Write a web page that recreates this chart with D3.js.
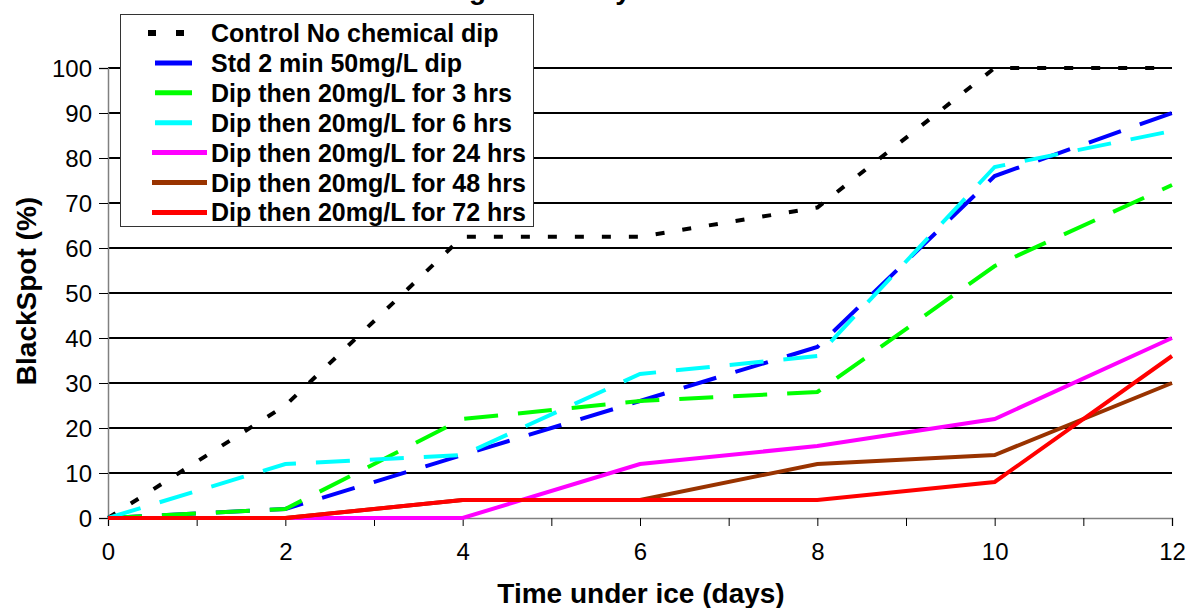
<!DOCTYPE html>
<html>
<head>
<meta charset="utf-8">
<script src="https://cdn.jsdelivr.net/npm/d3@7"></script>
<style>
  body { margin: 0; background: #fff; }
  svg { display: block; font-family: Arial, "Liberation Sans", sans-serif; }
</style>
</head>
<body>
<div id="chart"></div>
<script>
const width = 1189;
const height = 608;

// days under ice
const days = [0, 2, 4, 6, 8, 10, 12];

const seriesNames = [
    "Control No chemical dip",
    "Std 2 min 50mg/L dip",
    "Dip then 20mg/L for 3 hrs",
    "Dip then 20mg/L for 6 hrs",
    "Dip then 20mg/L for 24 hrs",
    "Dip then 20mg/L for 48 hrs",
    "Dip then 20mg/L for 72 hrs"
];

const controlValues = [0, 25, 62.5, 62.5, 69, 100, 100];
const stdValues     = [0, 2, 14, 26, 38, 76, 90];
const hrs3Values    = [0, 2, 22, 26, 28, 56, 74];
const hrs6Values    = [0, 12, 14, 32, 36, 78, 86];
const hrs24Values   = [0, 0, 0, 12, 16, 22, 40];
const hrs48Values   = [0, 0, 4, 4, 12, 14, 30];
const hrs72Values   = [0, 0, 4, 4, 4, 8, 36];

const yTicks = [0, 10, 20, 30, 40, 50, 60, 70, 80, 90, 100];
const xTickLabels = [0, 2, 4, 6, 8, 10, 12];

const colors = ["#000000", "#0000ff", "#00ff00", "#00ffff", "#ff00ff", "#993300", "#ff0000"];
const dashes = ["9,18", "34,20", "34,20", "34,20", null, null, null];

const allValues = [controlValues, stdValues, hrs3Values, hrs6Values, hrs24Values, hrs48Values, hrs72Values];

const margin = {left: 108, right: 17, top: 68, bottom: 90};

const x = d3.scaleLinear().domain([0, 12]).range([margin.left, width - margin.right]);
const y = d3.scaleLinear().domain([0, 100]).range([height - margin.bottom, margin.top]);

const svg = d3.select("#chart").append("svg")
    .attr("width", width)
    .attr("height", height);

// title (cut off at the top in the original, only descenders show)
svg.append("text")
    .attr("x", 290)
    .attr("y", -1)
    .attr("font-size", 28)
    .attr("font-weight", "bold")
    .text("Lobster storage on ice by treatment");

// gridlines
svg.append("g")
    .selectAll("line")
    .data(yTicks.filter(d => d > 0))
    .enter().append("line")
    .attr("x1", x(0))
    .attr("x2", x(12))
    .attr("y1", d => y(d))
    .attr("y2", d => y(d))
    .attr("stroke", "#000")
    .attr("stroke-width", 2);

// axes
const yAxis = svg.append("g")
    .attr("transform", `translate(${x(0)},0)`)
    .call(d3.axisLeft(y).tickValues(yTicks).tickSize(9).tickPadding(7));
const xAxis = svg.append("g")
    .attr("transform", `translate(0,${y(0)})`)
    .call(d3.axisBottom(x).ticks(12).tickSize(8).tickPadding(17)
        .tickFormat(d => xTickLabels.includes(d) ? d : ""));

[yAxis, xAxis].forEach(a => {
    a.select(".domain").attr("stroke", "#808080").attr("stroke-width", 1.5);
    a.selectAll(".tick line").attr("stroke", "#000").attr("stroke-width", 1);
    a.selectAll("text").attr("font-size", 24).attr("fill", "#000")
        .attr("font-family", "Arial, 'Liberation Sans', sans-serif");
});
yAxis.selectAll("text").attr("dy", "0.36em");

// lines
const line = d3.line()
    .x((d, i) => x(days[i]))
    .y(d => y(d));

svg.append("g")
    .selectAll("path")
    .data(allValues)
    .enter().append("path")
    .attr("d", d => line(d))
    .attr("fill", "none")
    .attr("stroke", (d, i) => colors[i])
    .attr("stroke-width", 4)
    .attr("stroke-dasharray", (d, i) => dashes[i]);

// axis titles
svg.append("text")
    .attr("transform", "translate(36,291) rotate(-90)")
    .attr("text-anchor", "middle")
    .attr("font-size", 28)
    .attr("font-weight", "bold")
    .text("BlackSpot (%)");

svg.append("text")
    .attr("x", 641)
    .attr("y", 603)
    .attr("text-anchor", "middle")
    .attr("font-size", 28)
    .attr("font-weight", "bold")
    .text("Time under ice (days)");

// legend
const legend = svg.append("g");
legend.append("rect")
    .attr("x", 120.5)
    .attr("y", 14.5)
    .attr("width", 413)
    .attr("height", 212)
    .attr("fill", "#fff")
    .attr("stroke", "#333")
    .attr("stroke-width", 1);

const rows = legend.selectAll("g.row")
    .data(seriesNames)
    .enter().append("g")
    .attr("class", "row")
    .attr("transform", (d, i) => `translate(0,${33 + i * 29.9})`);

rows.append("line")
    .attr("x1", (d, i) => i === 0 ? 148 : (dashes[i] ? 155 : 152))
    .attr("x2", (d, i) => i === 0 ? 184 : (dashes[i] ? 192 : 207))
    .attr("y1", 0)
    .attr("y2", 0)
    .attr("stroke", (d, i) => colors[i])
    .attr("stroke-width", (d, i) => i === 0 ? 6 : 5)
    .attr("stroke-dasharray", (d, i) => i === 0 ? "8,20" : null);

rows.append("text")
    .attr("x", 211)
    .attr("y", 9)
    .attr("font-size", 25)
    .attr("font-weight", "bold")
    .text(d => d);
</script>
</body>
</html>
